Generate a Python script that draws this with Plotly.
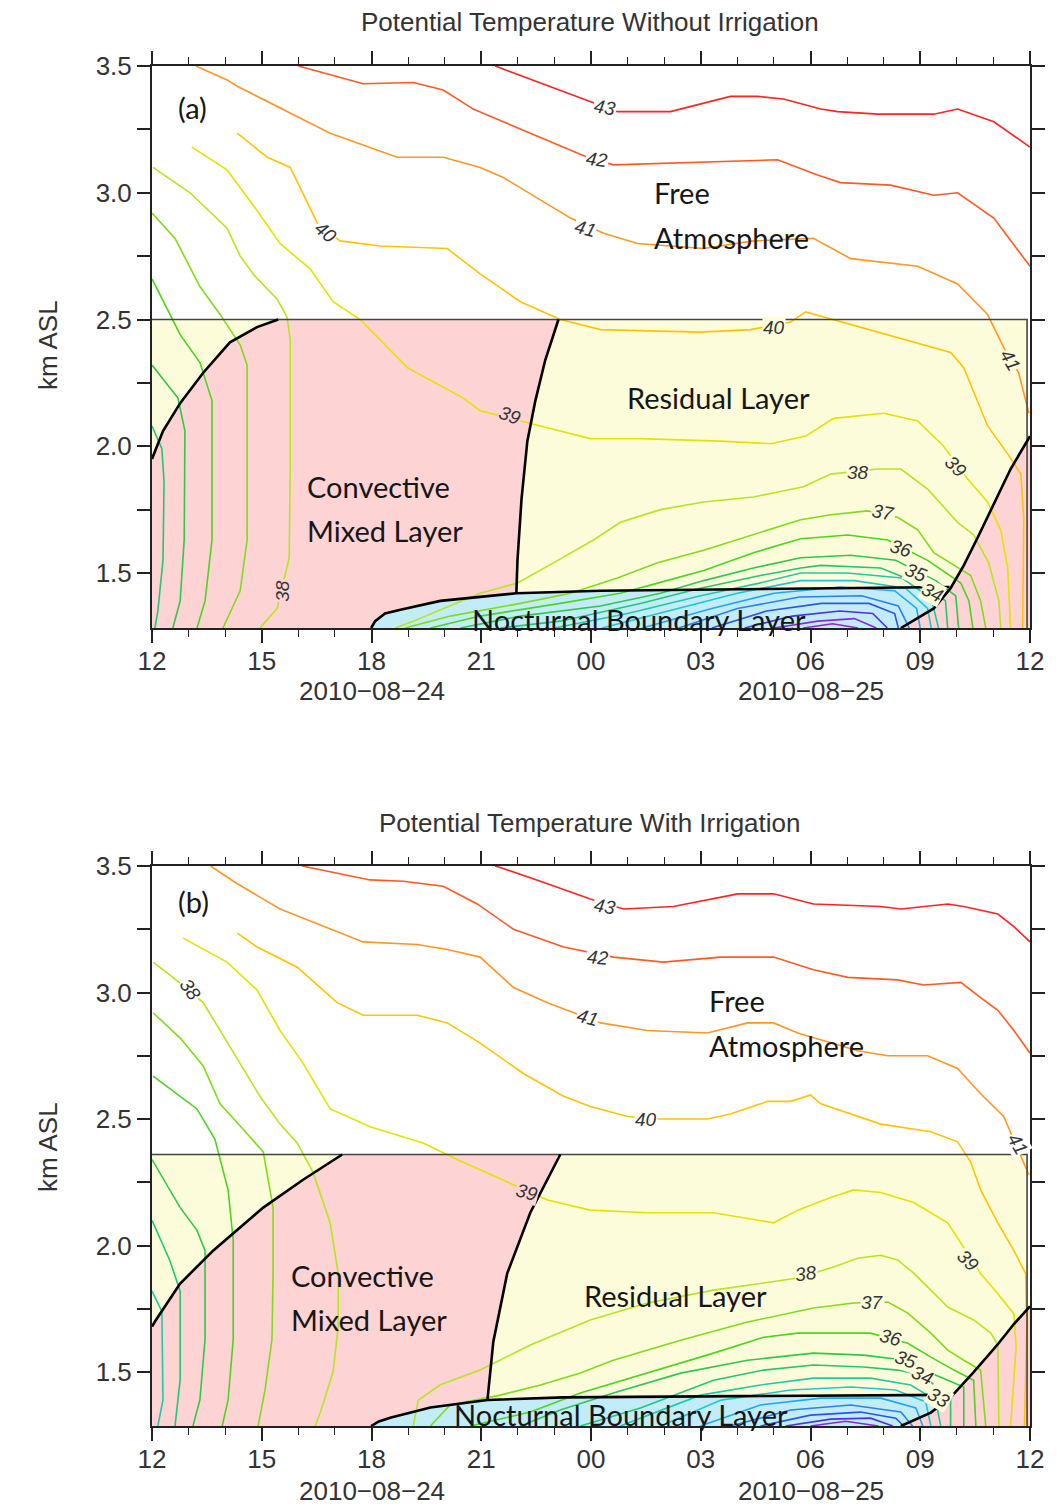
import plotly.graph_objects as go

# ---------------------------------------------------------------
# Axes: x = hours after 2010-08-24 12:00 (UTC), y = km ASL
# ---------------------------------------------------------------
X_TICKS = [0, 3, 6, 9, 12, 15, 18, 21, 24]
X_TICKTEXT = ["12", "15", "18", "21", "00", "03", "06", "09", "12"]
DATE_TEXT = ["2010\u221208\u221224", "2010\u221208\u221225"]
DATE_X = [6, 18]
X_MINOR = list(range(0, 25))
Y_TICKS = [1.5, 1.75, 2.0, 2.25, 2.5, 2.75, 3.0, 3.25, 3.5]
Y_TICKTEXT = ["1.5", "", "2.0", "", "2.5", "", "3.0", "", "3.5"]

A_YMIN, A_YMAX, A_TOP = 1.283, 3.5, 2.50
B_YMIN, B_YMAX, B_TOP = 1.287, 3.5, 2.36

# ---------------------------------------------------------------
# Panel (a) : without irrigation -- contour lines of potential temperature (deg C)
# ---------------------------------------------------------------
A43_X = [9.38, 11.98, 12.72, 14.17, 15.81, 16.55, 17.26, 18.28, 18.74, 19.84, 21.37, 22.02, 23.01, 24.0]
A43_Y = [3.50, 3.36, 3.32, 3.32, 3.38, 3.38, 3.37, 3.33, 3.32, 3.31, 3.31, 3.33, 3.28, 3.18]
A42_X = [4.0, 5.77, 7.14, 7.96, 8.78, 11.90, 12.61, 15.08, 17.10, 18.19, 18.82, 20.19, 21.37, 22.02, 23.01, 24.0]
A42_Y = [3.50, 3.43, 3.435, 3.405, 3.33, 3.14, 3.11, 3.12, 3.13, 3.07, 3.04, 3.03, 2.99, 3.00, 2.90, 2.71]
A41_X = [1.2, 2.05, 2.33, 4.87, 6.70, 7.96, 8.97, 9.60, 11.44, 12.34, 13.27, 15.08, 16.44, 18.08, 19.10,
         20.93, 22.02, 22.84, 23.28, 23.69, 23.97]
A41_Y = [3.50, 3.445, 3.42, 3.235, 3.14, 3.14, 3.10, 3.06, 2.90, 2.84, 2.80, 2.78, 2.81, 2.82, 2.74,
         2.71, 2.64, 2.52, 2.39, 2.29, 2.13]
A40_X = [2.33, 3.15, 3.78, 4.52, 5.14, 6.24, 8.07, 8.51, 8.97, 10.07, 11.16, 12.26, 14.99, 16.36, 17.46,
         17.87, 19.10, 21.83, 22.19, 22.84, 23.39, 23.75, 23.83, 23.80]
A40_Y = [3.235, 3.14, 3.10, 2.88, 2.81, 2.79, 2.78, 2.73, 2.68, 2.57, 2.50, 2.46, 2.45, 2.46, 2.49,
         2.53, 2.48, 2.37, 2.31, 2.08, 1.97, 1.89, 1.71, 1.283]
A39_X = [1.09, 2.05, 2.87, 3.50, 4.32, 4.95, 5.69, 6.98, 8.51, 8.97, 10.62, 11.98, 13.35, 15.54, 16.91,
         17.87, 18.63, 20.0, 20.93, 21.64, 22.30, 22.84, 23.20, 23.39, 23.47]
A39_Y = [3.18, 3.09, 2.93, 2.80, 2.70, 2.57, 2.50, 2.31, 2.19, 2.14, 2.08, 2.03, 2.03, 2.02, 2.01,
         2.04, 2.11, 2.13, 2.10, 2.00, 1.87, 1.78, 1.67, 1.52, 1.283]
A38L_X = [0.03, 1.04, 2.05, 2.41, 2.82, 3.42, 3.69, 3.78, 3.78, 3.75, 3.42, 2.95]
A38L_Y = [3.10, 3.00, 2.86, 2.75, 2.67, 2.58, 2.51, 2.42, 1.94, 1.56, 1.36, 1.283]
A38R_X = [6.65, 7.14, 8.97, 9.98, 10.97, 12.07, 12.80, 13.90, 15.08, 16.44, 17.81, 18.55, 19.84, 20.47,
          21.21, 22.02, 22.46, 22.87, 23.15, 23.20]
A38R_Y = [1.283, 1.31, 1.42, 1.46, 1.54, 1.63, 1.70, 1.75, 1.78, 1.80, 1.84, 1.89, 1.91, 1.91,
          1.83, 1.70, 1.65, 1.54, 1.39, 1.283]
A37L_X = [0.0, 0.63, 1.31, 1.86, 2.41, 2.60, 2.60, 2.41, 1.94]
A37L_Y = [2.92, 2.82, 2.63, 2.52, 2.40, 2.32, 1.63, 1.43, 1.283]
A37R_X = [6.92, 8.15, 10.07, 11.44, 12.72, 13.82, 15.08, 16.44, 17.73, 18.55, 19.56, 20.38, 20.93, 21.37,
          22.02, 22.38, 22.65, 22.79]
A37R_Y = [1.283, 1.33, 1.38, 1.42, 1.48, 1.54, 1.59, 1.65, 1.71, 1.73, 1.745, 1.72, 1.67, 1.58,
          1.52, 1.49, 1.39, 1.283]
A36L_X = [0.0, 0.77, 1.31, 1.64, 1.64, 1.45, 1.23]
A36L_Y = [2.66, 2.44, 2.33, 2.18, 1.63, 1.39, 1.283]
A36R_X = [7.61, 8.97, 11.16, 12.80, 13.82, 15.08, 16.44, 17.73, 19.02, 20.11, 21.20, 22.11, 22.33, 22.44]
A36R_Y = [1.283, 1.33, 1.38, 1.42, 1.46, 1.51, 1.58, 1.635, 1.65, 1.63, 1.55, 1.46, 1.39, 1.283]
A35L_X = [0.0, 0.71, 0.90, 0.88, 0.77, 0.57]
A35L_Y = [2.32, 2.19, 2.06, 1.63, 1.39, 1.283]
A35R_X = [8.43, 10.07, 12.26, 13.90, 15.08, 16.44, 17.73, 19.10, 20.33, 21.42, 21.97, 22.05]
A35R_Y = [1.283, 1.33, 1.37, 1.42, 1.47, 1.52, 1.56, 1.57, 1.55, 1.47, 1.41, 1.283]
A34L_X = [0.0, 0.27, 0.33, 0.30, 0.16, 0.08]
A34L_Y = [2.08, 1.99, 1.86, 1.55, 1.35, 1.283]
A34R_X = [9.52, 11.16, 13.35, 14.99, 16.63, 17.73, 18.28, 19.92, 21.29, 21.69, 21.75]
A34R_Y = [1.283, 1.31, 1.38, 1.44, 1.49, 1.52, 1.53, 1.52, 1.44, 1.39, 1.283]
A33_X = [11.0, 13.0, 15.0, 16.6, 17.73, 19.0, 20.5, 21.3, 21.5]
A33_Y = [1.283, 1.34, 1.41, 1.46, 1.50, 1.50, 1.48, 1.40, 1.283]
A32_X = [12.3, 14.4, 16.0, 17.73, 19.2, 20.6, 21.2, 21.3]
A32_Y = [1.283, 1.36, 1.42, 1.47, 1.47, 1.44, 1.36, 1.283]
A31_X = [13.4, 15.3, 17.0, 18.8, 20.3, 20.9, 21.0]
A31_Y = [1.283, 1.36, 1.42, 1.445, 1.43, 1.36, 1.283]
A30_X = [14.4, 16.0, 17.7, 19.4, 20.4, 20.7]
A30_Y = [1.283, 1.36, 1.405, 1.41, 1.37, 1.283]
A29_X = [15.3, 16.8, 18.3, 19.6, 20.3, 20.4]
A29_Y = [1.283, 1.35, 1.38, 1.38, 1.34, 1.283]
A28_X = [16.2, 17.5, 18.8, 19.7, 20.1]
A28_Y = [1.283, 1.33, 1.35, 1.34, 1.283]
A27_X = [17.0, 18.2, 19.2, 19.8]
A27_Y = [1.283, 1.31, 1.32, 1.283]
A26_X = [17.8, 18.6, 19.3]
A26_Y = [1.283, 1.30, 1.283]

# layer boundaries (a)
A_GROW_X = [0.0, 0.3, 0.77, 1.40, 2.13, 2.87, 3.45]
A_GROW_Y = [1.95, 2.06, 2.17, 2.29, 2.41, 2.47, 2.50]
A_COLL_X = [11.11, 10.75, 10.48, 10.26, 10.10, 9.99, 9.96]
A_COLL_Y = [2.50, 2.34, 2.18, 2.02, 1.79, 1.55, 1.42]
A_NBL_X = [5.99, 6.10, 6.37, 6.79, 7.88, 9.96, 12.26, 14.99, 17.73, 21.80]
A_NBL_Y = [1.283, 1.31, 1.34, 1.355, 1.39, 1.42, 1.43, 1.435, 1.44, 1.445]
A_MORN_X = [20.47, 21.37, 21.83, 22.19, 22.57, 23.01, 23.47, 24.0]
A_MORN_Y = [1.283, 1.36, 1.44, 1.53, 1.64, 1.77, 1.91, 2.04]

# contour labels (a)
A_LAB_T = ["43", "42", "41", "40", "39", "38", "40", "41", "39", "38", "37", "36", "35", "34"]
A_LAB_X = [12.39, 12.17, 11.85, 4.76, 9.79, 3.58, 16.99, 23.47, 21.97, 19.29, 20.0, 20.47, 20.88, 21.34]
A_LAB_Y = [3.335, 3.13, 2.86, 2.845, 2.12, 1.43, 2.47, 2.34, 1.92, 1.895, 1.74, 1.595, 1.50, 1.425]

# ---------------------------------------------------------------
# Panel (b) : with irrigation
# ---------------------------------------------------------------
B43_X = [9.38, 9.60, 10.81, 11.98, 12.89, 14.25, 16.01, 16.99, 18.08, 19.92, 20.47, 21.75, 22.19, 23.12, 23.56, 24.0]
B43_Y = [3.50, 3.49, 3.43, 3.37, 3.33, 3.34, 3.39, 3.39, 3.35, 3.34, 3.33, 3.35, 3.34, 3.31, 3.26, 3.20]
B42_X = [4.1, 5.96, 6.87, 7.96, 8.89, 9.88, 11.25, 11.90, 12.61, 13.98, 15.54, 16.99, 18.08, 19.02, 20.38,
         21.09, 22.11, 22.65, 23.12, 23.56, 24.0]
B42_Y = [3.50, 3.445, 3.44, 3.42, 3.35, 3.25, 3.18, 3.16, 3.14, 3.12, 3.14, 3.14, 3.09, 3.06, 3.05,
         3.03, 3.04, 2.98, 2.93, 2.85, 2.76]
B41_X = [1.6, 2.33, 3.50, 4.87, 5.77, 7.25, 8.07, 8.97, 9.88, 10.81, 11.52, 12.26, 13.54, 15.18, 16.28,
         16.99, 17.65, 19.29, 20.11, 21.20, 22.02, 22.65, 23.28, 23.61, 23.97]
B41_Y = [3.50, 3.43, 3.33, 3.25, 3.20, 3.19, 3.17, 3.14, 3.02, 2.96, 2.92, 2.88, 2.85, 2.84, 2.88,
         2.88, 2.84, 2.77, 2.75, 2.75, 2.70, 2.60, 2.51, 2.40, 2.28]
B40_X = [2.33, 2.87, 3.97, 5.06, 5.77, 7.25, 8.07, 8.97, 10.15, 11.25, 11.98, 13.0, 13.90, 15.18, 15.81,
         16.83, 17.46, 18.0, 18.28, 19.92, 21.29, 22.02, 22.38, 22.65, 23.12, 23.56, 23.88, 23.91, 23.85]
B40_Y = [3.235, 3.18, 3.10, 2.96, 2.91, 2.91, 2.88, 2.80, 2.68, 2.59, 2.55, 2.51, 2.50, 2.50, 2.52,
         2.57, 2.57, 2.595, 2.56, 2.48, 2.45, 2.41, 2.33, 2.22, 2.09, 1.98, 1.89, 1.68, 1.287]
B39_X = [0.85, 2.05, 2.87, 3.50, 4.13, 4.87, 5.96, 7.41, 8.34, 9.44, 10.81, 11.98, 13.54, 15.35, 16.99,
         17.65, 18.55, 19.18, 19.92, 20.82, 21.75, 22.65, 23.12, 23.56, 23.62, 23.55, 23.47]
B39_Y = [3.215, 3.12, 3.01, 2.85, 2.72, 2.54, 2.47, 2.405, 2.34, 2.27, 2.18, 2.14, 2.13, 2.13, 2.09,
         2.14, 2.19, 2.22, 2.21, 2.17, 2.09, 1.89, 1.81, 1.73, 1.60, 1.45, 1.287]
B38L_X = [0.03, 0.57, 1.40, 1.86, 2.41, 2.95, 3.50, 3.97, 4.40, 4.87, 5.09, 5.09, 4.95, 4.60, 4.46]
B38L_Y = [3.12, 3.06, 2.96, 2.85, 2.72, 2.59, 2.48, 2.405, 2.29, 2.09, 1.89, 1.68, 1.50, 1.34, 1.287]
B38R_X = [7.14, 7.28, 7.88, 8.97, 10.34, 11.98, 13.54, 15.35, 16.72, 17.65, 18.63, 19.29, 19.92, 20.38,
          20.82, 21.29, 21.75, 22.46, 22.93, 23.12, 23.15]
B38R_Y = [1.287, 1.389, 1.45, 1.508, 1.607, 1.706, 1.773, 1.824, 1.852, 1.872, 1.915, 1.95, 1.962, 1.943,
          1.891, 1.824, 1.757, 1.706, 1.654, 1.607, 1.287]
B37L_X = [0.03, 0.77, 1.40, 1.86, 2.49, 3.04, 3.31, 3.31, 3.28, 3.09, 2.90]
B37L_Y = [2.92, 2.82, 2.71, 2.56, 2.46, 2.37, 2.15, 1.89, 1.63, 1.43, 1.287]
B37R_X = [7.61, 8.15, 9.52, 10.62, 11.71, 12.61, 14.45, 16.28, 18.08, 19.18, 20.11, 20.66, 21.29, 21.75,
          22.19, 22.65, 22.79]
B37R_Y = [1.287, 1.37, 1.409, 1.449, 1.496, 1.547, 1.626, 1.698, 1.753, 1.773, 1.777, 1.733, 1.654, 1.587,
          1.547, 1.508, 1.287]
B36L_X = [0.03, 1.23, 1.72, 2.08, 2.22, 2.22, 2.08, 1.92]
B36L_Y = [2.67, 2.54, 2.42, 2.22, 2.02, 1.63, 1.39, 1.287]
B36R_X = [8.70, 10.34, 11.71, 13.54, 15.35, 16.72, 17.65, 19.64, 20.66, 21.29, 21.92, 22.46, 22.52]
B36R_Y = [1.287, 1.342, 1.417, 1.496, 1.575, 1.638, 1.654, 1.654, 1.614, 1.559, 1.508, 1.468, 1.287]
B35L_X = [0.0, 0.77, 1.23, 1.45, 1.45, 1.31, 1.12]
B35L_Y = [2.34, 2.15, 2.06, 1.98, 1.63, 1.39, 1.287]
B35R_X = [10.07, 11.16, 12.61, 14.45, 16.28, 18.08, 19.45, 20.60, 21.09, 21.75, 22.19, 22.19]
B35R_Y = [1.287, 1.35, 1.417, 1.496, 1.547, 1.575, 1.567, 1.547, 1.508, 1.468, 1.441, 1.287]
B34L_X = [0.0, 0.49, 0.77, 0.77, 0.63]
B34L_Y = [2.10, 1.94, 1.82, 1.47, 1.287]
B34R_X = [11.71, 13.35, 15.35, 16.72, 18.08, 19.45, 20.38, 21.07, 21.48, 21.83, 21.83]
B34R_Y = [1.287, 1.358, 1.468, 1.508, 1.528, 1.520, 1.508, 1.488, 1.437, 1.409, 1.287]
B33L_X = [0.0, 0.27, 0.30, 0.16]
B33L_Y = [1.82, 1.74, 1.39, 1.287]
B33R_X = [12.80, 14.99, 16.63, 18.08, 19.64, 20.74, 21.42, 21.56]
B33R_Y = [1.287, 1.409, 1.449, 1.476, 1.476, 1.449, 1.389, 1.287]
B32_X = [13.90, 15.54, 17.46, 19.10, 20.33, 21.15, 21.29]
B32_Y = [1.287, 1.389, 1.429, 1.441, 1.429, 1.382, 1.287]
B31_X = [14.99, 16.63, 18.28, 19.92, 20.88, 21.07]
B31_Y = [1.287, 1.37, 1.397, 1.397, 1.358, 1.287]
B30_X = [15.81, 17.46, 19.10, 20.47, 20.79]
B30_Y = [1.287, 1.35, 1.37, 1.342, 1.287]
B29_X = [16.63, 18.0, 19.37, 20.33, 20.55]
B29_Y = [1.287, 1.33, 1.342, 1.318, 1.287]
B28_X = [17.32, 18.55, 19.64, 20.25]
B28_Y = [1.287, 1.314, 1.318, 1.287]
B27_X = [18.0, 18.96, 19.86]
B27_Y = [1.287, 1.306, 1.287]

# layer boundaries (b)
B_GROW_X = [0.0, 0.08, 0.77, 1.67, 3.04, 4.13, 5.20]
B_GROW_Y = [1.68, 1.70, 1.85, 1.98, 2.15, 2.26, 2.36]
B_COLL_X = [11.16, 10.34, 9.71, 9.33, 9.17]
B_COLL_Y = [2.36, 2.13, 1.89, 1.62, 1.39]
B_NBL_X = [5.99, 6.2, 6.51, 7.61, 9.17, 11.25, 16.0, 21.83]
B_NBL_Y = [1.287, 1.305, 1.32, 1.36, 1.39, 1.40, 1.405, 1.41]
B_MORN_X = [20.47, 21.29, 21.83, 22.46, 23.12, 23.56, 24.0]
B_MORN_Y = [1.287, 1.34, 1.40, 1.50, 1.61, 1.69, 1.76]

# contour labels (b)
B_LAB_T = ["43", "42", "41", "38", "40", "41", "39", "39", "38", "37", "36", "35", "34", "33"]
B_LAB_X = [12.39, 12.2, 11.9, 1.04, 13.49, 23.67, 10.26, 22.30, 17.89, 19.70, 20.19, 20.6, 21.07, 21.5]
B_LAB_Y = [3.34, 3.14, 2.90, 3.01, 2.50, 2.40, 2.21, 1.94, 1.89, 1.777, 1.638, 1.55, 1.488, 1.40]

# ---------------------------------------------------------------
# styles
# ---------------------------------------------------------------
LEVEL_COLORS = {43: '#ff2323', 42: '#ff5a24', 41: '#ff9626', 40: '#ffc400', 39: '#e2e400',
                38: '#b6e61e', 37: '#80dc16', 36: '#4cd41e', 35: '#2ec84c', 34: '#22c676',
                33: '#1ecaa5', 32: '#1ec6d0', 31: '#1ea8f0', 30: '#2882f0', 29: '#2d55e6',
                28: '#5032dc', 27: '#8a28dc', 26: '#a020c8'}
C_PINK = '#fdd3d3'
C_YELLOW = '#fdfcda'
C_CYAN = '#c2ecf7'
WHITE = '#ffffff'
A_LAB_ANG = [10, 8, 15, 40, 20, -90, 0, 60, 45, 0, 10, 18, 22, 28]
A_LAB_BG = [WHITE, WHITE, WHITE, WHITE, C_PINK, C_PINK, C_YELLOW, C_YELLOW, C_YELLOW, C_YELLOW,
            C_YELLOW, C_YELLOW, C_YELLOW, C_YELLOW]
B_LAB_ANG = [10, 5, 15, 55, 0, 60, 15, 45, -8, 0, 15, 20, 25, 30]
B_LAB_BG = [WHITE, WHITE, WHITE, WHITE, WHITE, WHITE, C_PINK, C_YELLOW, C_YELLOW, C_YELLOW,
            C_YELLOW, C_YELLOW, C_YELLOW, C_YELLOW]

A_CONTOURS = [(43, A43_X, A43_Y), (42, A42_X, A42_Y), (41, A41_X, A41_Y), (40, A40_X, A40_Y),
              (39, A39_X, A39_Y), (38, A38L_X, A38L_Y), (38, A38R_X, A38R_Y), (37, A37L_X, A37L_Y),
              (37, A37R_X, A37R_Y), (36, A36L_X, A36L_Y), (36, A36R_X, A36R_Y), (35, A35L_X, A35L_Y),
              (35, A35R_X, A35R_Y), (34, A34L_X, A34L_Y), (34, A34R_X, A34R_Y), (33, A33_X, A33_Y),
              (32, A32_X, A32_Y), (31, A31_X, A31_Y), (30, A30_X, A30_Y), (29, A29_X, A29_Y),
              (28, A28_X, A28_Y), (27, A27_X, A27_Y), (26, A26_X, A26_Y)]
B_CONTOURS = [(43, B43_X, B43_Y), (42, B42_X, B42_Y), (41, B41_X, B41_Y), (40, B40_X, B40_Y),
              (39, B39_X, B39_Y), (38, B38L_X, B38L_Y), (38, B38R_X, B38R_Y), (37, B37L_X, B37L_Y),
              (37, B37R_X, B37R_Y), (36, B36L_X, B36L_Y), (36, B36R_X, B36R_Y), (35, B35L_X, B35L_Y),
              (35, B35R_X, B35R_Y), (34, B34L_X, B34L_Y), (34, B34R_X, B34R_Y), (33, B33L_X, B33L_Y),
              (33, B33R_X, B33R_Y), (32, B32_X, B32_Y), (31, B31_X, B31_Y), (30, B30_X, B30_Y),
              (29, B29_X, B29_Y), (28, B28_X, B28_Y), (27, B27_X, B27_Y)]

REGION_TEXT = ["(a)", "Free", "Atmosphere", "Residual Layer", "Convective", "Mixed Layer",
               "Nocturnal Boundary Layer"]
A_TEXT_POS = [(0.66, 3.338), (13.68, 3.002), (13.68, 2.824), (12.94, 2.192), (4.19, 1.840),
              (4.19, 1.666), (8.70, 1.318)]
B_TEXT_POS = [(0.66, 3.358), (15.18, 2.970), (15.18, 2.792), (11.76, 1.804), (3.75, 1.883),
              (3.75, 1.706), (8.21, 1.334)]

W, H = 1061, 1508
X_DOM = [152 / W, 1030 / W]
A_DOM = [1 - 628 / H, 1 - 66 / H]
B_DOM = [1 - 1426 / H, 1 - 866 / H]

TICK_FONT = dict(family="Liberation Sans, Arial, sans-serif", size=26, color="#333333")
LAB_FONT = dict(family="Liberation Sans, Arial, sans-serif", size=19, color="#353535", style="italic")
REG_FONT = dict(family="Lato, Carlito, sans-serif", size=29, color="#161616")

fig = go.Figure()
annotations = []


def line_trace(xs, ys, color, width, xa, ya):
    return go.Scatter(x=xs, y=ys, mode="lines", line=dict(color=color, width=width),
                      xaxis=xa, yaxis=ya, showlegend=False, hoverinfo="skip")


def fill_trace(xs, ys, color, xa, ya):
    return go.Scatter(x=xs, y=ys, mode="lines", fill="toself", fillcolor=color,
                      line=dict(color=color, width=0), xaxis=xa, yaxis=ya,
                      showlegend=False, hoverinfo="skip")


def add_panel(xa, ya, ymin, top, grow, coll, nbl, morn, contours, labels, texts, tag, date_y):
    gx, gy = grow
    cx, cy = coll
    nx, ny = nbl
    mx, my = morn
    # residual-layer box
    fig.add_trace(fill_trace([0, 23.92, 23.92, 0, 0], [ymin, ymin, top, top, ymin], C_YELLOW, xa, ya))
    # convective mixed layer (afternoon)
    fig.add_trace(fill_trace([0] + gx + cx + [cx[-1]], [ymin] + gy + cy + [ymin], C_PINK, xa, ya))
    # nocturnal boundary layer
    fig.add_trace(fill_trace(nx + [nx[-1]], ny + [ymin], C_CYAN, xa, ya))
    # convective mixed layer (morning)
    fig.add_trace(fill_trace(mx + [24, mx[0]], my + [ymin, ymin], C_PINK, xa, ya))
    # contour lines
    for lev, xs, ys in contours:
        fig.add_trace(line_trace(xs, ys, LEVEL_COLORS[lev], 1.6, xa, ya))
    # box outline (top + right side of shaded area)
    fig.add_trace(line_trace([0, 23.92, 23.92], [top, top, ymin], "#444444", 1.6, xa, ya))
    # layer boundaries
    for xs, ys in (grow, coll, nbl, morn):
        fig.add_trace(line_trace(xs, ys, "#000000", 2.6, xa, ya))
    # contour labels
    lt, lx, ly, la, lb = labels
    for t, x, y, a, bg in zip(lt, lx, ly, la, lb):
        annotations.append(dict(x=x, y=y, xref=xa, yref=ya, text=t, showarrow=False, textangle=a,
                                font=LAB_FONT, bgcolor=bg, borderpad=0,
                                xanchor="center", yanchor="middle"))
    # region names
    for i, (t, (x, y)) in enumerate(zip(REGION_TEXT, texts)):
        if i == 0:
            t = tag
        annotations.append(dict(x=x, y=y, xref=xa, yref=ya, text=t, showarrow=False,
                                font=REG_FONT, xanchor="left", yanchor="middle"))
    # date line under the time ticks
    for t, x in zip(DATE_TEXT, DATE_X):
        annotations.append(dict(x=x, y=date_y, xref=xa, yref="paper", text=t, showarrow=False,
                                font=TICK_FONT, xanchor="center", yanchor="middle"))


add_panel("x", "y", A_YMIN, A_TOP, (A_GROW_X, A_GROW_Y), (A_COLL_X, A_COLL_Y), (A_NBL_X, A_NBL_Y),
          (A_MORN_X, A_MORN_Y), A_CONTOURS, (A_LAB_T, A_LAB_X, A_LAB_Y, A_LAB_ANG, A_LAB_BG),
          A_TEXT_POS, "(a)", 1 - 691 / H)
add_panel("x2", "y2", B_YMIN, B_TOP, (B_GROW_X, B_GROW_Y), (B_COLL_X, B_COLL_Y), (B_NBL_X, B_NBL_Y),
          (B_MORN_X, B_MORN_Y), B_CONTOURS, (B_LAB_T, B_LAB_X, B_LAB_Y, B_LAB_ANG, B_LAB_BG),
          B_TEXT_POS, "(b)", 1 - 1491 / H)

TITLE_FONT = dict(family="Liberation Sans, Arial, sans-serif", size=26, color="#333333")
annotations += [
    dict(x=590 / W, y=1 - 22 / H, xref="paper", yref="paper", text="Potential Temperature Without Irrigation",
         showarrow=False, font=TITLE_FONT, xanchor="center", yanchor="middle"),
    dict(x=590 / W, y=1 - 823 / H, xref="paper", yref="paper", text="Potential Temperature With Irrigation",
         showarrow=False, font=TITLE_FONT, xanchor="center", yanchor="middle"),
    dict(x=48 / W, y=1 - 345 / H, xref="paper", yref="paper", text="km ASL", textangle=-90,
         showarrow=False, font=TITLE_FONT, xanchor="center", yanchor="middle"),
    dict(x=48 / W, y=1 - 1147 / H, xref="paper", yref="paper", text="km ASL", textangle=-90,
         showarrow=False, font=TITLE_FONT, xanchor="center", yanchor="middle"),
]

xaxis_common = dict(range=[0, 24], domain=X_DOM, tickmode="array", tickvals=X_TICKS, ticktext=X_TICKTEXT,
                    ticks="outside", ticklen=13, tickwidth=1.6, tickcolor="#222222",
                    showline=True, linecolor="#222222", linewidth=2, mirror="allticks",
                    showgrid=False, zeroline=False, tickfont=TICK_FONT, automargin=False,
                    ticklabelstandoff=-4,
                    minor=dict(tickmode="array", tickvals=X_MINOR, ticks="outside", ticklen=7,
                               tickwidth=1.4, tickcolor="#222222", showgrid=False))
yaxis_common = dict(tickmode="array", tickvals=Y_TICKS, ticktext=Y_TICKTEXT,
                    ticks="outside", ticklen=13, tickwidth=1.6, tickcolor="#222222",
                    showline=True, linecolor="#222222", linewidth=2, mirror="allticks",
                    showgrid=False, zeroline=False, tickfont=TICK_FONT, automargin=False)

fig.update_layout(
    width=W, height=H, autosize=False,
    margin=dict(l=0, r=0, t=0, b=0, pad=0, autoexpand=False),
    paper_bgcolor="white", plot_bgcolor="white",
    xaxis=dict(xaxis_common, anchor="y"),
    yaxis=dict(yaxis_common, domain=A_DOM, range=[A_YMIN, A_YMAX], anchor="x"),
    xaxis2=dict(xaxis_common, anchor="y2"),
    yaxis2=dict(yaxis_common, domain=B_DOM, range=[B_YMIN, B_YMAX], anchor="x2"),
    annotations=annotations,
    showlegend=False,
)

fig.write_html("out.html")
